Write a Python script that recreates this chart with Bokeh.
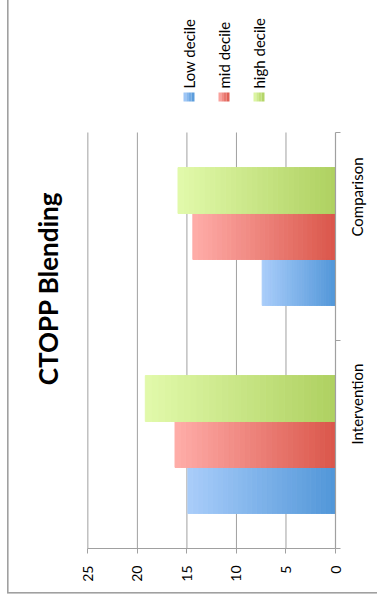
import numpy as np
from math import pi
from bokeh.plotting import figure
from bokeh.models import (Range1d, LinearAxis, FixedTicker, ColumnDataSource,
                          Label, BoxAnnotation)
from bokeh.embed import file_html
from bokeh.resources import INLINE

# ---- data ----
title = "CTOPP Blending"
categories = ["Intervention", "Comparison"]
series = ["Low decile", "mid decile", "high decile"]
low_decile = [14.9, 7.4]
mid_decile = [16.2, 14.4]
high_decile = [19.2, 15.9]
value_ticks = [0, 5, 10, 15, 20, 25]

# ---- styles ----
dark = ["#5196D8", "#DA564A", "#AED060"]
light = ["#A9CDFA", "#FFADA9", "#E2FAAB"]
grey = "#A0A0A0"
FONT = "Lato"
N_SEG = 30
bar_h = 0.221
offsets = [-bar_h, 0.0, bar_h]

# ---- geometry (pixels) ----
W, H = 377, 604
PLOT_L, PLOT_R, PLOT_T, PLOT_B = 88, 338, 132, 548   # plot area of the chart
FRAME_L, FRAME_T = 20, 0                              # drawing frame (holds title/legend too)
vmax = value_ticks[-1]
ncat = len(categories)
px_per_v = (PLOT_R - PLOT_L) / vmax
px_per_c = (PLOT_B - PLOT_T) / ncat
x_start = vmax + (PLOT_L - FRAME_L) / px_per_v
y_end = ncat + (PLOT_T - FRAME_T) / px_per_c


def hex2rgb(h):
    h = h.lstrip("#")
    return np.array([int(h[i:i + 2], 16) for i in (0, 2, 4)], dtype=float)


def mix(c0, c1, t):
    c = hex2rgb(c0) * (1 - t) + hex2rgb(c1) * t
    return "#%02x%02x%02x" % tuple(int(round(v)) for v in c)


def fx(px):  # canvas x -> frame-relative screen x
    return px - FRAME_L


def fy(py):  # canvas y (from top) -> frame-relative screen y (from bottom)
    return PLOT_B - py


ys, lefts, rights, colors = [], [], [], []
for s, vals in enumerate([low_decile, mid_decile, high_decile]):
    for i, v in enumerate(vals):
        for k in range(N_SEG):
            ys.append(i + 0.5 + offsets[s])
            lefts.append(v * k / N_SEG)
            rights.append(v * (k + 1) / N_SEG)
            colors.append(mix(dark[s], light[s], (k + 0.5) / N_SEG))
src = ColumnDataSource(dict(y=ys, left=lefts, right=rights, color=colors))

p = figure(width=W, height=H, x_range=Range1d(x_start, 0), y_range=Range1d(0, y_end),
           output_backend="svg", toolbar_location=None,
           x_axis_location=None, y_axis_location=None,
           min_border_left=FRAME_L, min_border_right=W - PLOT_R, min_border_top=FRAME_T,
           min_border_bottom=H - PLOT_B, outline_line_color=None,
           background_fill_color=None, border_fill_color=None)
p.center = []

# outer chart border (page background behind the transparent canvas)
p.styles = {
    "background": ("linear-gradient(%s,%s) 7px 0px / 1.6px 593px no-repeat, "
                   "linear-gradient(%s,%s) 7px 592px / 400px 1.6px no-repeat, white")
                  % (grey, grey, grey, grey)
}

# vertical gridlines over the plot area
p.segment(x0=value_ticks[1:], x1=value_ticks[1:], y0=0, y1=ncat,
          line_color=grey, line_width=1)

p.hbar(y="y", left="left", right="right", height=bar_h, fill_color="color",
       line_color="color", line_width=1.0, source=src)

xaxis = LinearAxis(ticker=FixedTicker(ticks=value_ticks), bounds=(0, vmax),
                   major_label_orientation=pi / 2,
                   axis_line_color=grey, axis_line_width=1.2,
                   major_tick_line_color=grey, major_tick_out=5, major_tick_in=0,
                   minor_tick_line_color=None, major_label_standoff=12,
                   major_label_text_font=FONT, major_label_text_font_size="14px",
                   major_label_text_color="black")
p.add_layout(xaxis, "below")

yaxis = LinearAxis(ticker=FixedTicker(ticks=[0.5, 1.5], minor_ticks=[0, 1, 2]),
                   bounds=(0, ncat),
                   major_label_overrides={0.5: categories[0], 1.5: categories[1]},
                   major_label_orientation=pi / 2,
                   axis_line_color=grey, axis_line_width=1.2,
                   major_tick_line_color=None, major_tick_out=0, major_tick_in=0,
                   minor_tick_line_color=grey, minor_tick_out=5, minor_tick_in=0,
                   major_label_standoff=16,
                   major_label_text_font=FONT, major_label_text_font_size="15px",
                   major_label_text_color="black")
p.add_layout(yaxis, "right")

# title
p.add_layout(Label(x=fx(47), y=fy(288), x_units="screen", y_units="screen", text=title,
                   angle=pi / 2, text_align="center", text_baseline="middle",
                   text_font=FONT, text_font_style="bold", text_font_size="26px",
                   text_color="black"))

# legend
leg_x = [188.5, 223.5, 258.5]
NSQ = 4
for s, name in enumerate(series):
    for k in range(NSQ):
        x0 = leg_x[s] - 5.5 + 11 * k / NSQ
        p.add_layout(BoxAnnotation(left=fx(x0), right=fx(x0 + 11 / NSQ),
                                   top=fy(92), bottom=fy(101),
                                   left_units="screen", right_units="screen",
                                   top_units="screen", bottom_units="screen",
                                   fill_color=mix(light[s], dark[s], (k + 0.5) / NSQ),
                                   fill_alpha=1, line_color=None))
    p.add_layout(Label(x=fx(leg_x[s]), y=fy(88), x_units="screen", y_units="screen",
                       text=name, angle=pi / 2, text_align="left", text_baseline="middle",
                       text_font=FONT, text_font_size="15px", text_color="black"))

open("out.html", "w").write(file_html(p, INLINE))
